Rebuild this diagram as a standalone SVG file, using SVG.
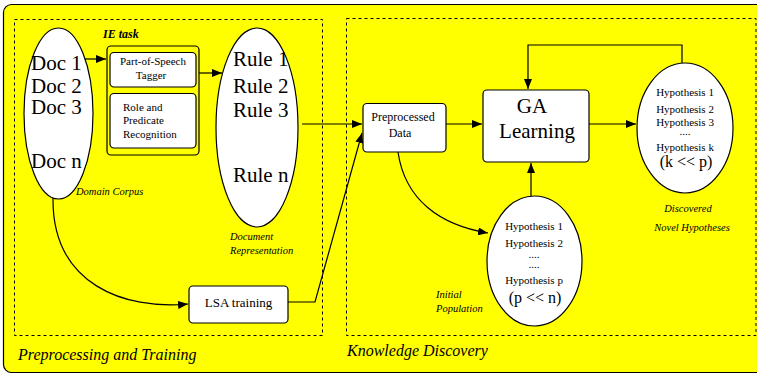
<svg xmlns="http://www.w3.org/2000/svg" width="757" height="374" viewBox="0 0 757 374" font-family="Liberation Serif, DejaVu Serif, serif">
<defs>
<marker id="ah" viewBox="0 0 10 8" refX="10" refY="4" markerWidth="10" markerHeight="8" markerUnits="userSpaceOnUse" orient="auto">
<path d="M0,0 L10,4 L0,8 Z" fill="#000"/>
</marker>
<style>
.bg{fill:#ffff00;stroke:#000;stroke-width:1.2}
.dash{fill:none;stroke:#000;stroke-width:1;stroke-dasharray:3,3}
.box{fill:#fff;stroke:#000;stroke-width:1.2}
.ell{fill:#fff;stroke:#000;stroke-width:1.2}
.ln{fill:none;stroke:#000;stroke-width:1.2}
text{fill:#000}
.big{font-size:21px}
.mid{font-size:12px}
.sm{font-size:11px}
.it{font-style:italic;font-size:10.5px}
.cap{font-style:italic;font-size:16px}
</style>
</defs>
<rect x="0" y="0" width="757" height="374" fill="#fff"/>
<rect class="bg" x="3.5" y="4.5" width="800" height="368" rx="8"/>
<rect class="dash" x="14.5" y="19.5" width="308" height="316"/>
<rect class="dash" x="346.5" y="18.5" width="409.5" height="317"/>
<text class="cap" x="18" y="360">Preprocessing and Training</text>
<text class="cap" x="347" y="356">Knowledge Discovery</text>

<g id="doc-corpus">
<ellipse class="ell" cx="58.5" cy="113.5" rx="34.5" ry="85.5"/>
<text class="big" x="31" y="70">Doc 1</text>
<text class="big" x="31" y="93">Doc 2</text>
<text class="big" x="31" y="114">Doc 3</text>
<text class="big" x="31" y="168">Doc n</text>
<text class="it" x="76" y="195">Domain Corpus</text>
</g>

<g id="ie-task">
<text x="103" y="38" font-size="12" font-weight="bold" font-style="italic">IE task</text>
<rect class="ln" x="107" y="46" width="92" height="109" rx="4"/>
<rect class="box" x="110" y="52.5" width="86" height="34.5" rx="4"/>
<text class="sm" x="153" y="65" text-anchor="middle">Part-of-Speech</text>
<text class="sm" x="151" y="79" text-anchor="middle">Tagger</text>
<rect class="box" x="110" y="93.5" width="86" height="54.5" rx="4"/>
<text class="sm" x="123" y="111">Role and</text>
<text class="sm" x="123" y="124">Predicate</text>
<text class="sm" x="123" y="138">Recognition</text>
</g>

<g id="doc-representation">
<ellipse class="ell" cx="257" cy="127.5" rx="41" ry="99.5"/>
<text class="big" x="233" y="66">Rule 1</text>
<text class="big" x="233" y="93">Rule 2</text>
<text class="big" x="233" y="117">Rule 3</text>
<text class="big" x="233" y="182">Rule n</text>
<text class="it" x="230" y="240">Document</text>
<text class="it" x="230" y="254">Representation</text>
</g>

<g id="lsa-training">
<rect class="box" x="189" y="286" width="99" height="37" rx="4"/>
<text x="238.5" y="307" font-size="13" text-anchor="middle">LSA training</text>
</g>

<g id="preprocessed-data">
<rect class="box" x="363" y="103.5" width="83" height="48.5" rx="4"/>
<text class="mid" x="403" y="121" text-anchor="middle">Preprocessed</text>
<text class="mid" x="400" y="137" text-anchor="middle">Data</text>
</g>

<g id="ga-learning">
<rect class="box" x="483" y="90" width="106" height="72" rx="4"/>
<text class="big" x="532" y="113" text-anchor="middle">GA</text>
<text class="big" x="537" y="138" text-anchor="middle">Learning</text>
</g>

<g id="discovered">
<ellipse class="ell" cx="685" cy="128" rx="48" ry="65"/>
<text class="sm" x="685" y="96" text-anchor="middle">Hypothesis 1</text>
<text class="sm" x="685" y="113" text-anchor="middle">Hypothesis 2</text>
<text class="sm" x="685" y="126" text-anchor="middle">Hypothesis 3</text>
<text class="sm" x="685" y="135" text-anchor="middle">....</text>
<text class="sm" x="685" y="151" text-anchor="middle">Hypothesis k</text>
<text x="686" y="167" font-size="16" text-anchor="middle">(k &lt;&lt; p)</text>
<text class="it" x="688" y="212" text-anchor="middle">Discovered</text>
<text class="it" x="692" y="231" text-anchor="middle">Novel Hypotheses</text>
</g>

<g id="initial-population">
<ellipse class="ell" cx="534.5" cy="261" rx="47.5" ry="65"/>
<text class="sm" x="534" y="230" text-anchor="middle">Hypothesis 1</text>
<text class="sm" x="534" y="247" text-anchor="middle">Hypothesis 2</text>
<text class="sm" x="534" y="258" text-anchor="middle">....</text>
<text class="sm" x="534" y="268" text-anchor="middle">....</text>
<text class="sm" x="534" y="284" text-anchor="middle">Hypothesis p</text>
<text x="535" y="303" font-size="16" text-anchor="middle">(p &lt;&lt; n)</text>
<text class="it" x="436" y="298">Initial</text>
<text class="it" x="436" y="312">Population</text>
</g>

<g id="connectors">
<line class="ln" x1="85" y1="59" x2="106" y2="59" marker-end="url(#ah)"/>
<line class="ln" x1="199" y1="73" x2="222" y2="73" marker-end="url(#ah)"/>
<line class="ln" x1="302" y1="124" x2="362" y2="124" marker-end="url(#ah)"/>
<path class="ln" d="M53,198 C52,285 125,310 188,304" marker-end="url(#ah)"/>
<path class="ln" d="M288,302 L315,302 L362,133" marker-end="url(#ah)"/>
<line class="ln" x1="446" y1="124" x2="482" y2="124" marker-end="url(#ah)"/>
<line class="ln" x1="589" y1="124" x2="636" y2="124" marker-end="url(#ah)"/>
<path class="ln" d="M682,63 L682,45 L528,45 L528,89" marker-end="url(#ah)"/>
<line class="ln" x1="531" y1="196" x2="531" y2="163" marker-end="url(#ah)"/>
<path class="ln" d="M398,152 C405,200 440,225 488,233" marker-end="url(#ah)"/>
</g>
</svg>
